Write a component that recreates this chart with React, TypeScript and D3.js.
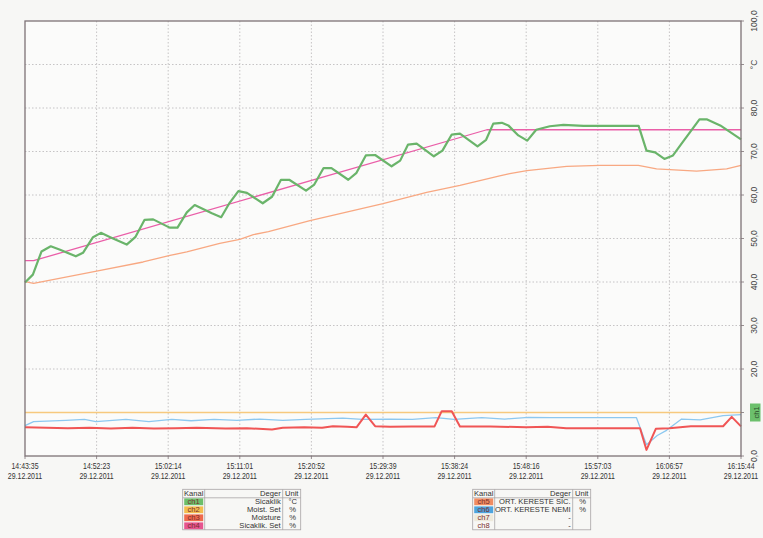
import React from "react";
import * as d3 from "d3";

// Record position (0..100 across the run) and value pairs for each channel
const ch1Sicaklik: [number, number][] = [
  [0, 39.9], [1.1, 41.7], [2.3, 47.0], [3.6, 48.2], [4.9, 47.4], [7.1, 45.9], [8.1, 46.7],
  [9.5, 50.3], [10.6, 51.3], [11.9, 50.3], [14.2, 48.6], [15.4, 50.3], [16.7, 54.3], [17.9, 54.4],
  [20.2, 52.5], [21.3, 52.5], [22.6, 56.0], [23.7, 57.7], [26.1, 55.8], [27.4, 54.9], [28.5, 58.0],
  [29.8, 60.9], [31.0, 60.5], [33.2, 58.1], [34.5, 59.6], [35.75, 63.5], [36.9, 63.5], [39.25, 61.0],
  [40.4, 62.4], [41.7, 66.2], [42.8, 66.2], [45.15, 63.5], [46.3, 65.1], [47.6, 69.1], [48.9, 69.2],
  [51.2, 66.6], [52.4, 67.9], [53.5, 71.6], [54.7, 71.8], [57.1, 68.9], [58.3, 70.2], [59.6, 73.9],
  [60.75, 74.1], [63.2, 71.2], [64.4, 72.7], [65.4, 76.4], [66.6, 76.6], [67.5, 76.0], [68.9, 73.7],
  [70.15, 72.5], [71.4, 75.0], [73.3, 75.8], [75.2, 76.1], [78.0, 75.9], [85.7, 75.9], [86.8, 70.2],
  [88.0, 69.8], [89.3, 68.3], [90.5, 69.1], [91.7, 71.8], [94.2, 77.4], [95.2, 77.4], [97.1, 76.0],
  [100, 72.8],
];
const ch2MoistSet: [number, number][] = [[0, 10.0], [100, 10.0]];
const ch3Moisture: [number, number][] = [
  [0, 6.6], [3, 6.5], [6, 6.4], [9, 6.5], [12, 6.3], [15, 6.5], [18, 6.3], [21, 6.4], [24, 6.5],
  [28, 6.3], [31, 6.4], [34.5, 6.1], [36, 6.5], [39, 6.6], [41.5, 6.5], [43, 6.85], [45, 6.7],
  [46.3, 6.6], [47.6, 9.5], [48.9, 6.85], [51, 6.7], [54, 6.8], [57.2, 6.8], [58.2, 10.3],
  [59.6, 10.3], [60.75, 6.8], [65, 6.8], [70, 6.6], [73, 6.7], [75.6, 6.4], [85.9, 6.4],
  [86.8, 1.4], [88.1, 6.25], [90, 6.4], [93, 6.85], [97.5, 6.85], [98.7, 9.0], [100, 6.8],
];
const ch4SicaklikSet: [number, number][] = [[0, 44.9], [1.2, 44.9], [64.5, 75.0], [100, 75.0]];
const ch5KeresteSic: [number, number][] = [
  [0, 40.1], [1.2, 39.7], [10.0, 42.5], [16.5, 44.6], [20.25, 46.1], [22.6, 46.9], [27.2, 48.9],
  [30.0, 49.8], [31.9, 50.9], [34.0, 51.6], [39.8, 54.1], [50.0, 58.0], [56.1, 60.6], [60.75, 62.2],
  [66.3, 64.4], [67.7, 64.9], [70.1, 65.6], [75.65, 66.6], [80.3, 66.8], [85.66, 66.8], [88.2, 66.0],
  [93.8, 65.5], [98.0, 66.0], [100, 66.8],
];
const ch6KeresteNemi: [number, number][] = [
  [0, 7.0], [1.2, 7.9], [5.7, 8.2], [8.3, 8.4], [9.9, 7.9], [14.1, 8.4], [17.3, 7.9], [20.5, 8.4],
  [23.2, 8.1], [26.4, 8.4], [29.6, 8.2], [32.8, 8.5], [36.0, 8.2], [39.2, 8.4], [44.4, 8.7],
  [47.1, 8.4], [50.9, 8.5], [54.1, 8.4], [57.4, 8.8], [59.9, 8.4], [63.8, 8.8], [67.0, 8.5],
  [70.3, 8.9], [73.5, 8.8], [85.4, 8.8], [86.8, 2.6], [88.3, 4.7], [89.6, 5.9], [91.7, 8.5],
  [94.3, 8.3], [97.5, 9.3], [100, 9.5],
];

const timeLabels = [
  "14:43:35", "14:52:23", "15:02:14", "15:11:01", "15:20:52", "15:29:39",
  "15:38:24", "15:48:16", "15:57:03", "16:06:57", "16:15:44",
];
const dateLabel = "29.12.2011";
const yTicks = [0, 10, 20, 30, 40, 50, 60, 70, 80, 90, 100];

const legendLeft = [
  { ch: "ch1", name: "Sicaklik", unit: "°C", fill: "#6cbf6a" },
  { ch: "ch2", name: "Moist. Set", unit: "%", fill: "#f3bd4e" },
  { ch: "ch3", name: "Moisture", unit: "%", fill: "#ef6a4c" },
  { ch: "ch4", name: "Sicaklik. Set", unit: "%", fill: "#e6558f" },
];
const legendRight = [
  { ch: "ch5", name: "ORT. KERESTE SIC.", unit: "%", fill: "#f08c62" },
  { ch: "ch6", name: "ORT. KERESTE NEMI", unit: "%", fill: "#4ea4de" },
  { ch: "ch7", name: "-", unit: "", fill: "#eeeadc" },
  { ch: "ch8", name: "-", unit: "", fill: "none" },
];

const W = 763;
const H = 538;
const plot = { left: 25, top: 21, right: 741, bottom: 456 };
const font = "'Liberation Sans', Arial, sans-serif";

function Legend({ x, y, rows }: { x: number; y: number; rows: typeof legendLeft }) {
  const c0 = 0, c1 = 22, c2 = 100, c3 = 118;
  const headH = 8.5, rowH = 8;
  const total = headH + rowH * rows.length;
  const stroke = "#a8a4a6";
  return (
    <g transform={`translate(${x},${y})`} fontFamily={font} fontSize={7.6} fill="#333">
      <rect x={c0} y={0} width={c3} height={total} fill="none" stroke={stroke} strokeWidth={0.8} />
      <line x1={c0} x2={c3} y1={headH} y2={headH} stroke={stroke} strokeWidth={0.8} />
      <line x1={c1} x2={c1} y1={0} y2={total} stroke={stroke} strokeWidth={0.8} />
      <line x1={c2} x2={c2} y1={0} y2={total} stroke={stroke} strokeWidth={0.8} />
      <text x={c1 / 2} y={headH - 1.6} textAnchor="middle">Kanal</text>
      <text x={c2 - 2} y={headH - 1.6} textAnchor="end">Deger</text>
      <text x={(c2 + c3) / 2} y={headH - 1.6} textAnchor="middle">Unit</text>
      {rows.map((r, i) => {
        const ry = headH + i * rowH;
        return (
          <g key={r.ch}>
            {r.fill !== "none" && (
              <rect x={c0 + 1.5} y={ry + 0.6} width={c1 - 3} height={rowH - 1.2} fill={r.fill} />
            )}
            <text x={c1 / 2} y={ry + rowH - 1.5} textAnchor="middle" fill="#7a2e2e">{r.ch}</text>
            <text x={c2 - 2} y={ry + rowH - 1.5} textAnchor="end">{r.name}</text>
            <text x={(c2 + c3) / 2 + 1} y={ry + rowH - 1.5} textAnchor="middle">{r.unit}</text>
          </g>
        );
      })}
    </g>
  );
}

export default function App() {
  const x = d3.scaleLinear().domain([0, 100]).range([plot.left, plot.right]);
  const y = d3.scaleLinear().domain([0, 100]).range([plot.bottom, plot.top]);
  const line = d3
    .line<[number, number]>()
    .x((d) => x(d[0]))
    .y((d) => y(d[1]));
  const xTicks = timeLabels.map((_, i) => i * 10);
  const fmt = (v: number) => d3.format(".1f")(v).replace(".", ",");
  const frame = "#7d7276";

  const series = [
    { data: ch2MoistSet, color: "#f7c97e", w: 1.3 },
    { data: ch6KeresteNemi, color: "#8cc8f0", w: 1.3 },
    { data: ch3Moisture, color: "#f05555", w: 2 },
    { data: ch5KeresteSic, color: "#f8a882", w: 1.3 },
    { data: ch4SicaklikSet, color: "#ea5ea8", w: 1.3 },
    { data: ch1Sicaklik, color: "#6ab46a", w: 2.2 },
  ];

  return (
    <svg
      width={W}
      height={H}
      style={{ position: "absolute", left: 0, top: 0, display: "block" }}
      fontFamily={font}
    >
      <rect x={0} y={0} width={W} height={H} fill="#f7f7f5" />
      <rect
        x={plot.left}
        y={plot.top}
        width={plot.right - plot.left}
        height={plot.bottom - plot.top}
        fill="#fbfbfa"
      />
      {/* grid */}
      {yTicks.slice(1, -1).map((t) => (
        <line
          key={`gy${t}`}
          x1={plot.left}
          x2={plot.right}
          y1={y(t)}
          y2={y(t)}
          stroke="#b9b6b8"
          strokeWidth={0.8}
          strokeDasharray="1.5,2"
        />
      ))}
      {xTicks.slice(1, -1).map((t) => (
        <line
          key={`gx${t}`}
          x1={x(t)}
          x2={x(t)}
          y1={plot.top}
          y2={plot.bottom}
          stroke="#b9b6b8"
          strokeWidth={0.8}
          strokeDasharray="1.5,2"
        />
      ))}
      {/* series */}
      {series.map((s, i) => (
        <path
          key={i}
          d={line(s.data) || ""}
          fill="none"
          stroke={s.color}
          strokeWidth={s.w}
          strokeLinejoin="round"
        />
      ))}
      {/* frame */}
      <rect
        x={plot.left}
        y={plot.top}
        width={plot.right - plot.left}
        height={plot.bottom - plot.top}
        fill="none"
        stroke={frame}
        strokeWidth={1.3}
      />
      {/* right axis */}
      {yTicks.map((t) => (
        <line key={`ty${t}`} x1={plot.right} x2={plot.right + 3} y1={y(t)} y2={y(t)} stroke={frame} strokeWidth={0.8} />
      ))}
      {yTicks
        .filter((t) => t !== 10)
        .map((t) => (
          <text
            key={`ly${t}`}
            transform={`translate(${plot.right + 16},${y(t)}) rotate(-90)`}
            textAnchor="middle"
            fontSize={8.5}
            fill="#444"
          >
            {t === 90 ? "°C" : fmt(t)}
          </text>
        ))}
      <rect x={750} y={y(10) - 9} width={10.5} height={18} fill="#6cc06c" />
      <text
        transform={`translate(${758.5},${y(10)}) rotate(-90)`}
        textAnchor="middle"
        fontSize={7.5}
        fill="#2b4a2b"
      >
        ch1
      </text>
      {/* bottom axis: time and date, set in a condensed face */}
      {xTicks.map((t, i) => (
        <g key={`lx${t}`} transform={`translate(${x(t)},0)`}>
          <line x1={0} x2={0} y1={plot.bottom} y2={plot.bottom + 3} stroke={frame} strokeWidth={0.8} />
          <g transform="scale(0.81,1)" fontSize={8.6} fill="#333" textAnchor="middle">
            <text y={469}>{timeLabels[i]}</text>
            <text y={478.5}>{dateLabel}</text>
          </g>
        </g>
      ))}
      <Legend x={182.7} y={489.3} rows={legendLeft} />
      <Legend x={472.7} y={489.3} rows={legendRight} />
    </svg>
  );
}
